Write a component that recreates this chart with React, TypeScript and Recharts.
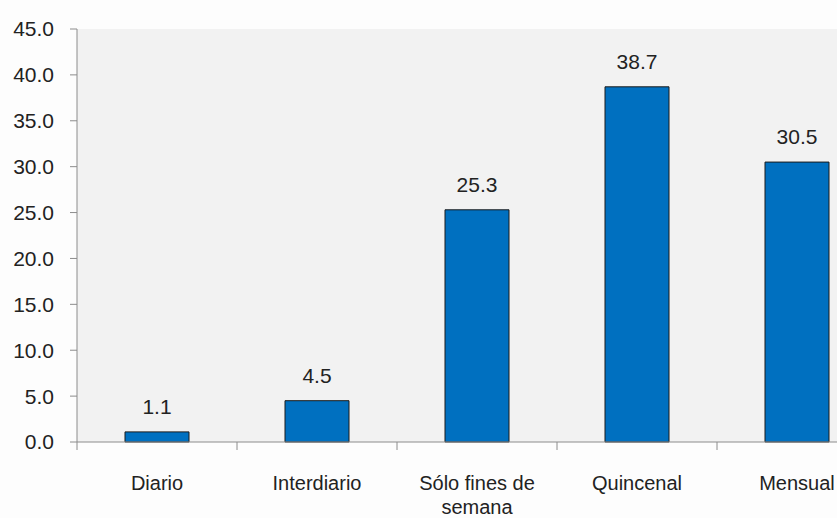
import React from 'react';
import { BarChart, Bar, XAxis, YAxis, CartesianGrid, LabelList } from 'recharts';

const categories = ['Diario', 'Interdiario', 'Sólo fines de semana', 'Quincenal', 'Mensual'];
const values = [1.1, 4.5, 25.3, 38.7, 30.5];
const yTicks = [0, 5, 10, 15, 20, 25, 30, 35, 40, 45];

const data = categories.map((name, i) => ({ name, value: values[i] }));

const FONT = '"Liberation Sans", Arial, sans-serif';
const TEXT = '#222222';
const AXIS = '#8c8c8c';

const CHART_W = 877;
const CHART_H = 518;
const Y_W = 77;
const BAND = (CHART_W - Y_W) / categories.length;

const wrapLabel = (s: string): string[] => {
  if (s.length <= 14) return [s];
  const words = s.split(' ');
  const lines: string[] = [];
  let cur = '';
  words.forEach(w => {
    const next = cur ? cur + ' ' + w : w;
    if (next.length > 14 && cur) {
      lines.push(cur);
      cur = w;
    } else {
      cur = next;
    }
  });
  if (cur) lines.push(cur);
  return lines;
};

const CategoryTick = (props: any) => {
  const { x, y, payload, index } = props;
  const lines = wrapLabel(String(payload.value));
  const left = x - BAND / 2;
  const right = x + BAND / 2;
  const top = y - 8;
  return (
    <g>
      {index === 0 && <line x1={left} y1={top} x2={left} y2={top + 8} stroke={AXIS} />}
      <line x1={right} y1={top} x2={right} y2={top + 8} stroke={AXIS} />
      <text x={x} y={top + 48} textAnchor="middle" fill={TEXT} fontSize={20} fontFamily={FONT}>
        {lines.map((l, i) => (
          <tspan key={i} x={x} dy={i === 0 ? 0 : 24}>
            {l}
          </tspan>
        ))}
      </text>
    </g>
  );
};

export default function App() {
  return (
    <div
      style={{
        position: 'fixed',
        left: 0,
        top: 0,
        width: 837,
        height: 518,
        overflow: 'hidden',
        background: '#fdfdfd',
      }}
    >
      <BarChart
        width={CHART_W}
        height={CHART_H}
        data={data}
        margin={{ top: 29, right: 0, bottom: 0, left: 0 }}
        barCategoryGap="30%"
      >
        <CartesianGrid fill="#f2f2f2" horizontal={false} vertical={false} />
        <XAxis
          dataKey="name"
          height={76}
          interval={0}
          tickLine={false}
          axisLine={{ stroke: AXIS }}
          tick={<CategoryTick />}
        />
        <YAxis
          width={Y_W}
          domain={[0, 45]}
          ticks={yTicks}
          interval={0}
          tickSize={7}
          tickMargin={16}
          tickFormatter={(v: number) => v.toFixed(1)}
          axisLine={{ stroke: AXIS }}
          tickLine={{ stroke: AXIS }}
          tick={{ fill: TEXT, fontSize: 21, fontFamily: FONT }}
        />
        <Bar dataKey="value" fill="#0070c0" stroke="#1a1a1a" strokeWidth={1} isAnimationActive={false}>
          <LabelList
            dataKey="value"
            position="top"
            offset={18}
            formatter={(v: any) => Number(v).toFixed(1)}
            style={{ fill: TEXT, fontSize: 21, fontFamily: FONT }}
          />
        </Bar>
      </BarChart>
    </div>
  );
}
